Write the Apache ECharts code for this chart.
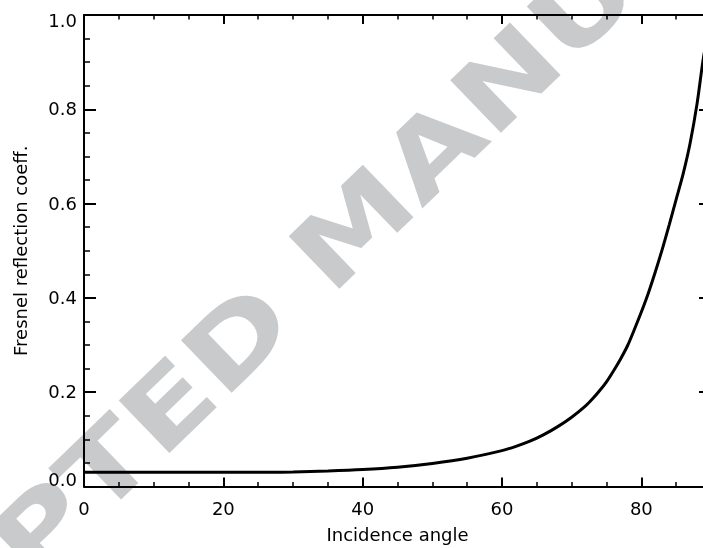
<!DOCTYPE html>
<html>
<head>
<meta charset="utf-8">
<script src="https://cdn.jsdelivr.net/npm/echarts@6/dist/echarts.min.js"></script>
<style>
  html, body { margin: 0; padding: 0; background: #fff; }
  #chart { width: 703px; height: 548px; }
</style>
</head>
<body>
<div id="chart"></div>
<script>
// ── Data ─────────────────────────────────────────────────────

const angles = [0, 10, 20, 25, 30, 35, 40, 45, 50, 55, 60, 62, 64, 66, 68, 70, 72, 73,
                74, 75, 76, 77, 78, 79, 80, 81, 82, 83, 84, 85, 86, 87, 88, 88.9, 90];
const fresnel = [0.030, 0.030, 0.030, 0.030, 0.031, 0.033, 0.036, 0.041, 0.049, 0.060,
                 0.076, 0.085, 0.096, 0.110, 0.127, 0.147, 0.171, 0.186, 0.203, 0.222,
                 0.245, 0.270, 0.298, 0.333, 0.370, 0.410, 0.455, 0.503, 0.555, 0.609,
                 0.663, 0.728, 0.812, 0.908, 1.0];

const xTitle = 'Incidence angle';
const yTitle = 'Fresnel reflection coeff.';
const watermark = 'ACCEPTED MANUSCRIPT';

// ── Chart ────────────────────────────────────────────────────

const chart = echarts.init(document.getElementById('chart'), null, { renderer: 'canvas' });

const FONT = '"DejaVu Sans", sans-serif';
const INK  = '#000';

// shared look of the four frame axes (ticks pointing inward, no grid)
function frameAxis(extra) {
  return Object.assign({
    type: 'value',
    axisLine:  { show: true, onZero: false, lineStyle: { color: INK, width: 2 } },
    splitLine: { show: false },
    axisLabel: { show: false },
  }, extra);
}

const xTicks = {
  axisTick:  { show: true, inside: true, length: 9, lineStyle: { color: INK, width: 2 } },
  minorTick: { show: true, splitNumber: 4, length: 4.5, lineStyle: { color: INK, width: 1.5 } },
};
const yTicks = {
  axisTick:  { show: true, inside: true, length: 12, lineStyle: { color: INK, width: 2 } },
  minorTick: { show: true, splitNumber: 4, length: 6, lineStyle: { color: INK, width: 1.5 } },
};

chart.setOption({
  backgroundColor: '#fff',
  animation: false,
  grid: { left: 84, top: 15, width: 627, height: 471.5, outerBoundsMode: 'none', containLabel: false },
  graphic: [{
    type: 'text',
    x: 369, y: 224,
    rotation: 44 * Math.PI / 180,
    scaleX: 1.27,
    z: -10,
    silent: true,
    style: {
      text: watermark,
      fontFamily: '"DejaVu Sans", sans-serif',
      fontWeight: 'bold',
      fontSize: 100,
      fill: '#c9cacc',
      align: 'center', verticalAlign: 'middle',
      textAlign: 'center', textVerticalAlign: 'middle',
    },
  }],
  xAxis: [
    frameAxis(Object.assign({
      position: 'bottom', min: 0, max: 90, interval: 20,
      axisLabel: { show: true, color: INK, fontFamily: FONT, fontSize: 18, margin: 15, showMaxLabel: false },
      name: xTitle, nameLocation: 'middle', nameGap: 41, nameMoveOverlap: false,
      nameTextStyle: { color: INK, fontFamily: FONT, fontSize: 18 },
    }, xTicks)),
    frameAxis(Object.assign({ position: 'top', min: 0, max: 90, interval: 20 }, xTicks)),
  ],
  yAxis: [
    frameAxis(Object.assign({
      position: 'left', min: 0, max: 1, interval: 0.2,
      axisLabel: {
        show: true, color: INK, fontFamily: FONT, fontSize: 18, margin: 7,
        formatter: v => {
          const s = v.toFixed(1);
          if (v >= 1) return '{hi|' + s + '}';
          if (v <= 0) return '{lo|' + s + '}';
          return '{mid|' + s + '}';
        },
        rich: {
          hi:  { fontFamily: FONT, fontSize: 18, color: INK, padding: [14, 0, 0, 0] },
          mid: { fontFamily: FONT, fontSize: 18, color: INK, padding: [3, 0, 0, 0] },
          lo:  { fontFamily: FONT, fontSize: 18, color: INK, padding: [0, 0, 11, 0] },
        },
      },
      name: yTitle, nameLocation: 'middle', nameGap: 53, nameMoveOverlap: false,
      nameTextStyle: { color: INK, fontFamily: FONT, fontSize: 18 },
    }, yTicks)),
    frameAxis(Object.assign({ position: 'right', min: 0, max: 1, interval: 0.2 }, yTicks)),
  ],
  series: [{
    type: 'line',
    xAxisIndex: 0, yAxisIndex: 0,
    data: angles.map((a, i) => [a, fresnel[i]]),
    smooth: 0.3,
    showSymbol: false,
    clip: true,
    lineStyle: { color: INK, width: 3 },
    z: 5,
  }],
});
</script>
</body>
</html>
